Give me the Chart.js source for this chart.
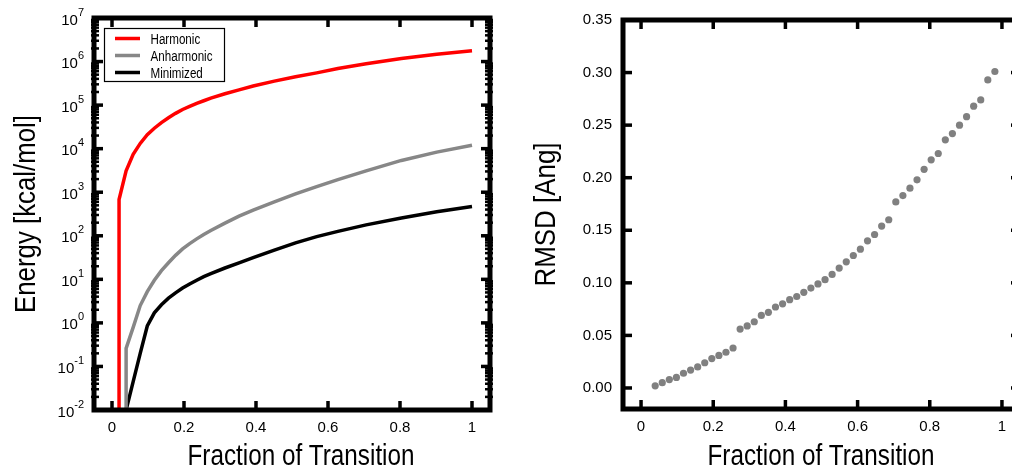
<!DOCTYPE html>
<html>
<head>
<meta charset="utf-8">
<script src="https://cdn.jsdelivr.net/npm/chart.js@4.4.0/dist/chart.umd.min.js"></script>
<style>
html, body { margin: 0; padding: 0; background: #fff; overflow: hidden; width: 1012px; height: 467px; }
#energyBox { position: absolute; left: 0; top: 0; width: 500px; height: 467px; }
#rmsdBox { position: absolute; left: 520px; top: 0; width: 520px; height: 467px; }
</style>
</head>
<body>
<div id="energyBox"><canvas id="energy-chart"></canvas></div>
<div id="rmsdBox"><canvas id="rmsd-chart"></canvas></div>
<script>
const FONT = "'Liberation Sans', Arial, sans-serif";

// tick labels and titles
const fractionTicks = [0, 0.2, 0.4, 0.6, 0.8, 1];
const energyExponents = [-2, -1, 0, 1, 2, 3, 4, 5, 6, 7];
const rmsdTicks = [0, 0.05, 0.10, 0.15, 0.20, 0.25, 0.30, 0.35];
const legendLabels = ['Harmonic', 'Anharmonic', 'Minimized'];
const xTitle = 'Fraction of Transition';
const energyTitle = 'Energy [kcal/mol]';
const rmsdTitle = 'RMSD [Ang]';

// energy curves (kcal/mol); the first point of each sits on the axis floor
const harmonicX = [0.0196, 0.0196, 0.0392, 0.0588, 0.0784, 0.098, 0.1176, 0.1373, 0.1569, 0.1765, 0.1961, 0.2157, 0.2353, 0.2549, 0.2745,
  0.3137, 0.3529, 0.3922, 0.451, 0.5098, 0.5686, 0.6275, 0.7059, 0.8039, 0.902, 1.0];
const harmonicE = [0.01, 680, 3100, 7400, 13200, 20900, 29500, 39800, 51300, 64600, 79400, 93300, 110000, 126000, 145000,
  182000, 224000, 275000, 355000, 447000, 550000, 692000, 891000, 1175000, 1479000, 1778000];

const anharmonicX = [0.0392, 0.0392, 0.0588, 0.0784, 0.098, 0.1176, 0.1373, 0.1569, 0.1765, 0.1961, 0.2157, 0.2353, 0.2549, 0.2745,
  0.3137, 0.3529, 0.3922, 0.451, 0.5098, 0.5686, 0.6275, 0.7059, 0.8039, 0.902, 1.0];
const anharmonicE = [0.01, 0.26, 0.79, 2.5, 5.2, 9.5, 15.8, 24, 35.5, 50, 66, 85, 107, 132,
  195, 282, 389, 603, 912, 1350, 1950, 3090, 5370, 8320, 12000];

const minimizedX = [0.0392, 0.0588, 0.0784, 0.098, 0.1176, 0.1373, 0.1569, 0.1765, 0.1961, 0.2157, 0.2353, 0.2549, 0.2745,
  0.3137, 0.3529, 0.3922, 0.451, 0.5098, 0.5686, 0.6275, 0.7059, 0.8039, 0.902, 1.0];
const minimizedE = [0.01, 0.045, 0.2, 0.85, 1.7, 2.6, 3.7, 4.9, 6.3, 7.8, 9.5, 11.5, 13.5,
  18.2, 24, 31.6, 46.8, 69, 95.5, 126, 178, 257, 355, 468];

// RMSD scatter (Angstrom)
const rmsdX = [0.0392, 0.0588, 0.0784, 0.0980, 0.1176, 0.1373, 0.1569, 0.1765, 0.1961, 0.2157, 0.2353, 0.2549,
  0.2745, 0.2941, 0.3137, 0.3333, 0.3529, 0.3725, 0.3922, 0.4118, 0.4314, 0.4510, 0.4706, 0.4902,
  0.5098, 0.5294, 0.5490, 0.5686, 0.5882, 0.6078, 0.6275, 0.6471, 0.6667, 0.6863, 0.7059, 0.7255,
  0.7451, 0.7647, 0.7843, 0.8039, 0.8235, 0.8431, 0.8627, 0.8824, 0.9020, 0.9216, 0.9412, 0.9608, 0.9804];
const rmsdY = [0.002, 0.005, 0.008, 0.010, 0.014, 0.017, 0.020, 0.024, 0.028, 0.031, 0.034, 0.038,
  0.056, 0.059, 0.063, 0.069, 0.072, 0.077, 0.080, 0.084, 0.087, 0.091, 0.095, 0.099,
  0.103, 0.108, 0.114, 0.120, 0.126, 0.132, 0.140, 0.146, 0.154, 0.160, 0.177, 0.183,
  0.190, 0.198, 0.208, 0.217, 0.223, 0.236, 0.242, 0.250, 0.258, 0.268, 0.274, 0.293, 0.301];

const toPoints = (xs, ys) => xs.map((x, i) => ({x: x, y: ys[i]}));

Chart.defaults.font.family = FONT;
Chart.defaults.color = '#000';

// narrow text: squeeze the font horizontally so the text spans `width` px
function narrowText(ctx, text, x, y, size, width, rotate) {
    ctx.save();
    ctx.font = size + 'px ' + FONT;
    const sx = width / ctx.measureText(text).width;
    ctx.translate(x, y);
    if (rotate) ctx.rotate(-Math.PI / 2);
    ctx.scale(sx, 1);
    ctx.textAlign = 'center';
    ctx.textBaseline = 'alphabetic';
    ctx.fillStyle = '#000';
    ctx.fillText(text, 0, 0);
    ctx.restore();
}

// thick box with inward ticks on all four sides, plus axis titles
function framePlugin(yMajor, yMinor, yTitle, yTitleWidth) {
    return {
        id: 'frame',
        afterDatasetsDraw(chart) {
            const {ctx, chartArea: a, scales} = chart;
            ctx.save();
            ctx.strokeStyle = '#000';
            const line = (x1, y1, x2, y2, w) => {
                ctx.lineWidth = w;
                ctx.beginPath();
                ctx.moveTo(x1, y1);
                ctx.lineTo(x2, y2);
                ctx.stroke();
            };
            fractionTicks.forEach(v => {
                const px = scales.x.getPixelForValue(v);
                line(px, a.bottom, px, a.bottom - 9, 3.5);
                line(px, a.top, px, a.top + 9, 3.5);
            });
            yMajor.forEach(v => {
                const py = scales.y.getPixelForValue(v);
                line(a.left, py, a.left + 9, py, 3.5);
                line(a.right, py, a.right - 9, py, 3.5);
            });
            yMinor.forEach(v => {
                const py = scales.y.getPixelForValue(v);
                line(a.left - 3, py, a.left + 5, py, 2.5);
                line(a.right + 3, py, a.right - 5, py, 2.5);
            });
            ctx.lineWidth = 5;
            ctx.strokeRect(a.left, a.top, a.right - a.left, a.bottom - a.top);
            ctx.restore();

            narrowText(ctx, xTitle, 301, 464.5, 30, 227, false);
            narrowText(ctx, yTitle, 35, (a.top + a.bottom) / 2, 30, yTitleWidth, true);
        }
    };
}

// 10^n labels and the boxed legend for the energy panel
const energyExtras = {
    id: 'energyExtras',
    afterDraw(chart) {
        const {ctx, chartArea: a, scales} = chart;
        ctx.save();
        ctx.fillStyle = '#000';
        ctx.textBaseline = 'alphabetic';
        ctx.textAlign = 'left';
        energyExponents.forEach(e => {
            const py = scales.y.getPixelForValue(Math.pow(10, e));
            const sup = String(e);
            ctx.font = '11px ' + FONT;
            const supW = ctx.measureText(sup).width;
            ctx.font = '15px ' + FONT;
            const baseW = ctx.measureText('10').width;
            const right = a.left - 10;
            ctx.fillText('10', right - supW - baseW, py + 6.5);
            ctx.font = '11px ' + FONT;
            ctx.fillText(sup, right - supW, py - 2.5);
        });

        // legend
        ctx.fillStyle = '#fff';
        ctx.fillRect(104.5, 28.5, 120, 53);
        ctx.strokeStyle = '#000';
        ctx.lineWidth = 1.2;
        ctx.strokeRect(104.5, 28.5, 120, 53);
        chart.data.datasets.forEach((ds, i) => {
            const y = 38.5 + i * 17;
            ctx.strokeStyle = ds.borderColor;
            ctx.lineWidth = 3.5;
            ctx.beginPath();
            ctx.moveTo(115, y);
            ctx.lineTo(140, y);
            ctx.stroke();
            ctx.font = '14px ' + FONT;
            const w = ctx.measureText(legendLabels[i]).width * 0.83;
            narrowText(ctx, legendLabels[i], 150.5 + w / 2, y + 5, 14, w, false);
        });
        ctx.restore();
    }
};

const logMinor = [];
energyExponents.slice(0, -1).forEach(e => {
    for (let m = 2; m < 10; m++) logMinor.push(m * Math.pow(10, e));
});

const energyCtx = document.getElementById('energy-chart').getContext('2d');
const energyChart = new Chart(energyCtx, {
    type: 'line',
    data: {
        datasets: [{
            label: legendLabels[0],
            data: toPoints(harmonicX, harmonicE),
            borderColor: '#ff0000',
            borderWidth: 3.5,
            pointRadius: 0
        }, {
            label: legendLabels[1],
            data: toPoints(anharmonicX, anharmonicE),
            borderColor: '#878787',
            borderWidth: 3.5,
            pointRadius: 0
        }, {
            label: legendLabels[2],
            data: toPoints(minimizedX, minimizedE),
            borderColor: '#000000',
            borderWidth: 3.5,
            pointRadius: 0
        }]
    },
    options: {
        responsive: true,
        maintainAspectRatio: false,
        animation: false,
        devicePixelRatio: 1,
        layout: { padding: { top: 18, right: 10, left: 0, bottom: 0 } },
        plugins: {
            legend: { display: false },
            tooltip: { enabled: false }
        },
        elements: { line: { tension: 0 } },
        scales: {
            x: {
                type: 'linear',
                min: -0.05,
                max: 1.05,
                afterBuildTicks: s => { s.ticks = fractionTicks.map(v => ({value: v})); },
                afterFit: s => { s.height = 57; },
                grid: { display: false, drawTicks: false },
                border: { display: false },
                ticks: { font: { size: 15 }, padding: 9, maxRotation: 0, callback: v => String(v) }
            },
            y: {
                type: 'logarithmic',
                min: 0.01,
                max: 1e7,
                afterBuildTicks: s => { s.ticks = energyExponents.map(e => ({value: Math.pow(10, e)})); },
                afterFit: s => { s.width = 94; },
                grid: { display: false, drawTicks: false },
                border: { display: false },
                ticks: { display: false }
            }
        }
    },
    plugins: [framePlugin(energyExponents.map(e => Math.pow(10, e)), logMinor, energyTitle, 198), energyExtras]
});

const rmsdCtx = document.getElementById('rmsd-chart').getContext('2d');
const rmsdChart = new Chart(rmsdCtx, {
    type: 'scatter',
    data: {
        datasets: [{
            label: 'RMSD',
            data: toPoints(rmsdX, rmsdY),
            backgroundColor: '#808080',
            borderWidth: 0,
            pointRadius: 3.6
        }]
    },
    options: {
        responsive: true,
        maintainAspectRatio: false,
        animation: false,
        devicePixelRatio: 1,
        layout: { padding: { top: 19, right: 20, left: 0, bottom: 0 } },
        plugins: {
            legend: { display: false },
            tooltip: { enabled: false }
        },
        scales: {
            x: {
                type: 'linear',
                min: -0.05,
                max: 1.05,
                afterBuildTicks: s => { s.ticks = fractionTicks.map(v => ({value: v})); },
                afterFit: s => { s.height = 58; },
                grid: { display: false, drawTicks: false },
                border: { display: false },
                ticks: { font: { size: 15 }, padding: 9, maxRotation: 0, callback: v => String(v) }
            },
            y: {
                type: 'linear',
                min: -0.02,
                max: 0.35,
                afterBuildTicks: s => { s.ticks = rmsdTicks.map(v => ({value: v})); },
                afterFit: s => { s.width = 103; },
                grid: { display: false, drawTicks: false },
                border: { display: false },
                ticks: { font: { size: 15 }, padding: 11, callback: v => v.toFixed(2) }
            }
        }
    },
    plugins: [framePlugin(rmsdTicks, [], rmsdTitle, 144)]
});
</script>
</body>
</html>
